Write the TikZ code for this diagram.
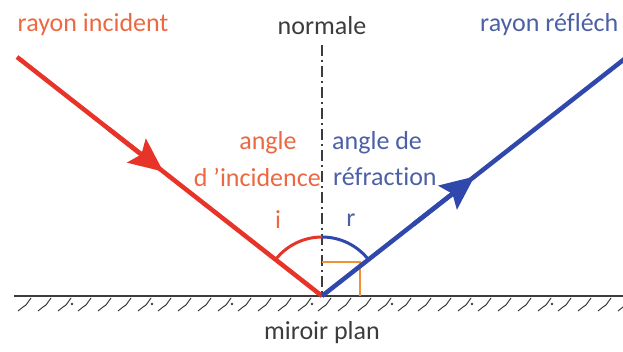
\documentclass[tikz,border=0pt]{standalone}
\usepackage{fontspec}
\setmainfont{Carlito}[Ligatures={NoCommon}]
\usetikzlibrary{arrows.meta,calc}
\definecolor{rayred}{RGB}{232,52,40}
\definecolor{txtorange}{RGB}{236,104,66}
\definecolor{rayblue}{RGB}{48,72,172}
\definecolor{txtblue}{RGB}{76,96,166}
\definecolor{dgray}{RGB}{60,60,60}
\definecolor{sqorange}{RGB}{238,146,52}
\tikzset{
  lbl/.style={font=\fontsize{26}{30}\selectfont, inner sep=0pt},
  rayline/.style={line width=4.5pt},
  headtip/.style={-{Stealth[length=34pt,width=30pt,inset=6pt]}},
}
\begin{document}
\begin{tikzpicture}[x=1pt,y=1pt]
\useasboundingbox (0,0) rectangle (623,352);
\begin{scope}
\clip (0,0) rectangle (623,352);
% points
\coordinate (O) at (322,56);
\coordinate (R0) at (17,295);
\coordinate (B1) at (627,295);
\coordinate (Ntop) at (322,307);
\coordinate (ML) at (14,56);
\coordinate (MR) at (623,56);
\coordinate (Ra) at ($(R0)!0.48!(O)$);
\coordinate (Ra0) at ($(R0)!0.30!(O)$);
\coordinate (Ba) at ($(O)!0.50!(B1)$);
\coordinate (Ba0) at ($(O)!0.30!(B1)$);
% mirror
\draw[dgray, line width=1.3pt] (ML) -- (MR);
\foreach \x in {18,38,...,618} {
  \draw[dgray, line width=1pt, line join=round] (\x,41) -- (\x+5,45) -- (\x+8,47) -- (\x+13,54);
}
\foreach \x in {72,152,232,312,392,472,552} {
  \fill[dgray] (\x,48) circle (1.4pt);
}
% normal
\draw[dgray, line width=1.4pt, dash pattern=on 11pt off 4pt on 2pt off 4pt] (Ntop) -- (O);
% right angle
\coordinate (Q1) at (322,90);
\coordinate (Q2) at (360,90);
\coordinate (Q3) at (360,56);
\draw[sqorange, line width=1.4pt] (Q1) -- (Q2) -- (Q3);
% arcs
\draw[rayred, line width=3pt] ($(O)+(90:59)$) arc[start angle=90, end angle=142, radius=59];
\draw[rayblue, line width=3pt] ($(O)+(90:59)$) arc[start angle=90, end angle=38, radius=59];
% rays
\draw[rayred, rayline] (R0) -- (O);
\draw[rayred, rayline, headtip] (Ra0) -- (Ra);
\draw[rayblue, rayline] (O) -- (B1);
\draw[rayblue, rayline, headtip] (Ba0) -- (Ba);
\end{scope}
% labels
\node[lbl, txtorange] (tinc) at (93,327) {rayon incident};
\node[lbl, dgray] (tnorm) at (322,326) {normale};
\node[lbl, txtblue, anchor=west] (tref) at (480,327) {rayon réfléch};
\node[lbl, txtorange] (tang1) at (268,209) {angle};
\node[lbl, txtorange, anchor=east] (tang2) at (321,175) {d 'incidence};
\node[lbl, txtblue, anchor=west] (tang3) at (332,209) {angle de};
\node[lbl, txtblue, anchor=west] (tang4) at (333,175) {réfraction};
\node[lbl, txtorange] (ti) at (278,132) {i};
\node[lbl, txtblue] (tr) at (351,132) {r};
\node[lbl, dgray] (tmir) at (322,19) {miroir plan};
\end{tikzpicture}
\end{document}
